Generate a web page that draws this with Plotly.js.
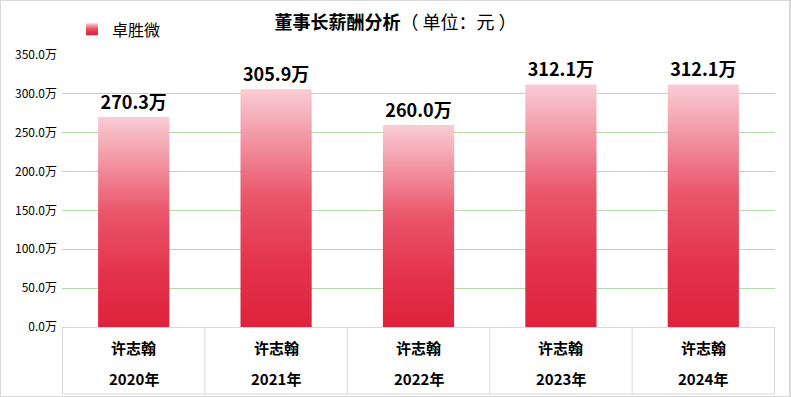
<!DOCTYPE html>
<html>
<head>
<meta charset="utf-8">
<script src="https://cdn.plot.ly/plotly-3.0.1.min.js"></script>
<style>
  html, body { margin: 0; padding: 0; background: #fff; }
  #chart { width: 791px; height: 397px; }
  #frame { position: absolute; left: 0; top: 0; width: 791px; height: 397px; box-sizing: border-box;
           border: 1px solid #d9d9d9; border-right-width: 2px; pointer-events: none; }
</style>
</head>
<body>
<svg width="0" height="0" style="position:absolute">
  <defs>
    <linearGradient id="barGrad" x1="0" y1="0" x2="0" y2="1">
      <stop offset="0" stop-color="#f9cdd4"/>
      <stop offset="0.45" stop-color="#ea566b"/>
      <stop offset="0.75" stop-color="#e3324b"/>
      <stop offset="1" stop-color="#df223b"/>
    </linearGradient>
  </defs>
</svg>
<div id="chart"></div>
<div id="frame"></div>
<script>
// ---- data ----
const years = ['2020年', '2021年', '2022年', '2023年', '2024年'];
const names = ['许志翰', '许志翰', '许志翰', '许志翰', '许志翰'];
const salary = [270.3, 305.9, 260.0, 312.1, 312.1];   // 单位：万元
const company = '卓胜微';
const yTicks = [0, 50, 100, 150, 200, 250, 300, 350];

const FONT = '"Noto Sans CJK SC", "Microsoft YaHei", sans-serif';
const plotH = 397 - 51 - 70;
const boxDepth = 68 / plotH;

const trace = {
  type: 'bar',
  name: company,
  x: years,
  y: salary,
  width: 0.5,
  marker: { color: '#e33a52' },
  text: salary.map(v => v.toFixed(1) + '万'),
  textposition: 'outside',
  textfont: { family: FONT, size: 18, color: '#000', weight: 'bold' },
  cliponaxis: false,
  hoverinfo: 'skip'
};

const shapes = [];
for (let i = 0; i <= years.length; i++) {
  shapes.push({ type: 'line', xref: 'x', yref: 'paper', x0: i - 0.5, x1: i - 0.5, y0: 0, y1: -boxDepth,
                line: { color: '#d9d9d9', width: 1 } });
}
shapes.push({ type: 'line', xref: 'x', yref: 'paper', x0: -0.5, x1: years.length - 0.5, y0: -boxDepth, y1: -boxDepth,
              line: { color: '#d9d9d9', width: 1 } });

const annotations = [];
years.forEach((yr, i) => {
  annotations.push({ xref: 'x', yref: 'paper', x: yr, y: -(348 - 327) / plotH, text: '<b>' + names[i] + '</b>',
                     showarrow: false, yanchor: 'middle', font: { family: FONT, size: 15, color: '#000' } });
  annotations.push({ xref: 'x', yref: 'paper', x: yr, y: -(379 - 327) / plotH, text: '<b>' + yr + '</b>',
                     showarrow: false, yanchor: 'middle', font: { family: FONT, size: 15, color: '#000' } });
});

const layout = {
  width: 791, height: 397,
  margin: { l: 62, r: 16, t: 51, b: 70 },
  paper_bgcolor: '#fff', plot_bgcolor: '#fff',
  font: { family: FONT, color: '#000' },
  title: { text: '<b>董事长薪酬分析</b>（ 单位：元 ）', x: 0.5, xref: 'container', xanchor: 'center',
           y: 1 - 23 / 397, yref: 'container', yanchor: 'middle',
           font: { family: FONT, size: 18, color: '#000' } },
  showlegend: true,
  legend: { orientation: 'h', xref: 'paper', yref: 'paper', x: 10 / 713, xanchor: 'left',
            y: (327 - 25) / plotH, yanchor: 'middle', font: { family: FONT, size: 16, color: '#000' },
            bgcolor: 'rgba(0,0,0,0)' },
  xaxis: { type: 'category', showticklabels: false, ticks: '', showgrid: false,
           showline: true, linecolor: '#d9d9d9', linewidth: 1, zeroline: false, fixedrange: true },
  yaxis: { range: [0, 350], tickvals: yTicks, ticktext: yTicks.map(v => v.toFixed(1) + '万'),
           showgrid: true, gridcolor: '#b2dcaa', gridwidth: 1, zeroline: false, showline: false,
           ticks: '', ticklabelstandoff: 4, tickfont: { family: FONT, size: 12, color: '#000' }, fixedrange: true },
  shapes: shapes,
  annotations: annotations
};

Plotly.newPlot('chart', [trace], layout, { displayModeBar: false, staticPlot: true }).then(gd => {
  gd.querySelectorAll('.bars .point path, .legendpoints path').forEach(p => {
    p.style.fill = 'url(#barGrad)';
    p.style.fillOpacity = 1;
    p.style.stroke = 'none';
  });
});
</script>
</body>
</html>
